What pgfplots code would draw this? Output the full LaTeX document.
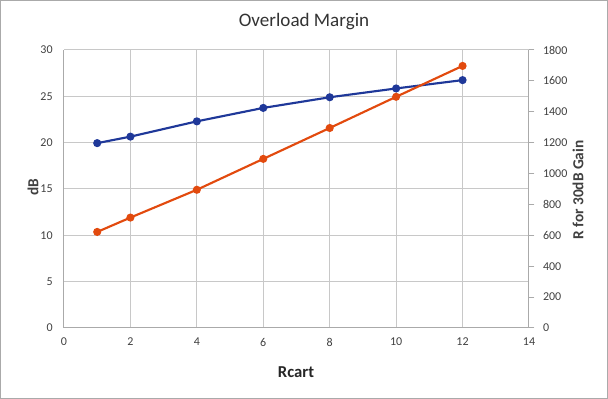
\documentclass[border=0pt]{standalone}
\usepackage{fontspec}
\setmainfont{Carlito}
\usepackage{pgfplots}
\pgfplotsset{compat=1.18}
\definecolor{sblue}{RGB}{31,56,153}
\definecolor{sorange}{RGB}{226,74,14}
\definecolor{gridc}{RGB}{200,200,200}
\definecolor{axc}{RGB}{170,170,170}
\definecolor{txt}{RGB}{64,64,64}
\begin{document}
\begin{tikzpicture}
\useasboundingbox (-48pt,-53.25pt) rectangle (408pt,246pt);
\draw[axc, line width=0.75pt] (-47.6pt,-52.9pt) rectangle (407.6pt,245.6pt);
\begin{axis}[
  at={(0pt,0pt)}, anchor=south west,
  scale only axis, width=348.75pt, height=208.5pt,
  xmin=0, xmax=14, ymin=0, ymax=30,
  xtick={0,2,...,14}, ytick={0,5,...,30},
  axis x line*=bottom, axis y line*=left,
  axis line style={axc, line width=0.75pt, -},
  grid=major, major grid style={gridc, line width=0.75pt},
  major tick length=0pt,
  tick label style={font=\fontsize{9}{10}\selectfont, text=txt},
  /pgf/number format/assume math mode=true,
  xticklabel style={yshift=-4pt},
  yticklabel style={xshift=-5pt},
  clip=false,
]
\addplot[sblue, line width=1.6pt, mark=*, mark size=2.2pt] coordinates {
(1,19.95) (2,20.65) (4,22.3) (6,23.75) (8,24.9) (10,25.85) (12,26.75)};
\end{axis}
\begin{axis}[
  at={(0pt,0pt)}, anchor=south west,
  scale only axis, width=348.75pt, height=208.5pt,
  xmin=0, xmax=14, ymin=0, ymax=1800,
  ytick={0,200,...,1800},
  axis x line=none, axis y line*=right,
  axis line style={axc, line width=0.75pt, -},
  ytick style={axc, line width=0.75pt},
  tick align=outside, major tick length=4pt,
  tick label style={font=\fontsize{9}{10}\selectfont, text=txt},
  /pgf/number format/assume math mode=true,
  /pgf/number format/1000 sep={},
  yticklabel style={xshift=3pt},
  clip=false,
]
\addplot[sorange, line width=1.6pt, mark=*, mark size=2.2pt] coordinates {
(1,622) (2,715) (4,895) (6,1095) (8,1295) (10,1497) (12,1697)};
\end{axis}
\node[font=\fontsize{14.3}{16}\selectfont, text=black!80] at (180pt,229.5pt) {Overload Margin};
\node[font=\bfseries\fontsize{11.5}{13}\selectfont, text=txt, rotate=90] at (-23.25pt,105.75pt) {dB};
\node[font=\bfseries\fontsize{11.5}{13}\selectfont, text=txt, rotate=90] at (385.5pt,103.5pt) {R for 30dB Gain};
\node[font=\bfseries\fontsize{12.5}{14}\selectfont, text=black!85] at (174pt,-33pt) {Rcart};
\end{tikzpicture}
\end{document}
